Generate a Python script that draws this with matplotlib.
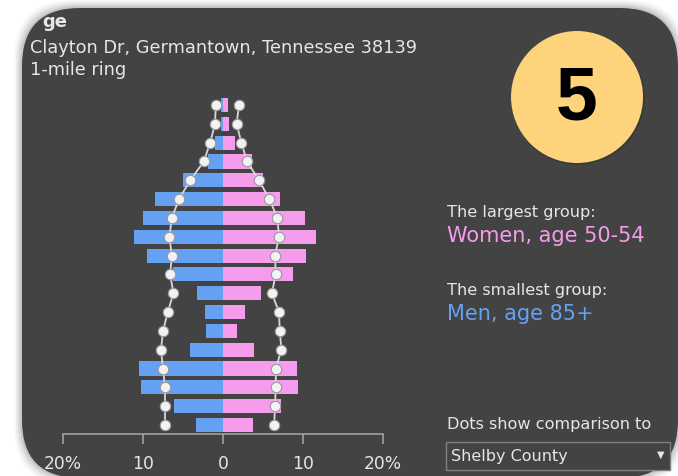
import matplotlib
matplotlib.use("Agg")
import matplotlib.pyplot as plt
from matplotlib.patches import FancyBboxPatch, Circle, Rectangle

# age groups from bottom (0-4) to top (85+)
age_groups = ["0-4", "5-9", "10-14", "15-19", "20-24", "25-29", "30-34", "35-39", "40-44",
              "45-49", "50-54", "55-59", "60-64", "65-69", "70-74", "75-79", "80-84", "85+"]
men = [3.4, 6.1, 10.3, 10.5, 4.1, 2.1, 2.25, 3.3, 6.2, 9.5, 11.1, 10.0, 8.5, 5.0, 1.9, 1.0, 0.3, 0.2]
women = [3.75, 7.3, 9.4, 9.2, 3.9, 1.75, 2.75, 4.75, 8.75, 10.4, 11.6, 10.2, 7.1, 5.0, 3.6, 1.5, 0.7, 0.6]
county_men = [7.25, 7.25, 7.25, 7.5, 7.75, 7.5, 6.9, 6.2, 6.6, 6.4, 6.7, 6.4, 5.5, 4.1, 2.4, 1.6, 1.0, 0.9]
county_women = [6.4, 6.5, 6.6, 6.6, 7.3, 7.1, 7.0, 6.1, 6.6, 6.5, 7.0, 6.8, 5.8, 4.5, 3.0, 2.3, 1.7, 2.0]

tick_values = [-20, -10, 0, 10, 20]
tick_labels = ["20%", "10", "0", "10", "20%"]

W, H = 678, 476
PANEL = "#434343"
BLUE = "#65a1f2"
PINK = "#f59ced"
TEXT = "#e6e6e6"

fig = plt.figure(figsize=(W / 100, H / 100), dpi=100)
fig.patch.set_facecolor("white")

# overlay axes in pixel coordinates
bg = fig.add_axes([0, 0, 1, 1])
bg.set_xlim(0, W)
bg.set_ylim(H, 0)
bg.axis("off")

# soft shadow then the rounded dark panel
for i, a in enumerate([0.03, 0.05, 0.07, 0.09]):
    grow = 8 - 2 * i
    bg.add_patch(FancyBboxPatch((22 - grow, 8 - grow), 656 + 2 * grow, 470 + 2 * grow,
                                boxstyle="round,pad=0,rounding_size=60",
                                fc="black", ec="none", alpha=a))
bg.add_patch(FancyBboxPatch((22, 8), 656, 470, boxstyle="round,pad=0,rounding_size=58",
                            fc=PANEL, ec="none"))

# titles
bg.text(42, 22, "ge", color=TEXT, fontsize=13, fontweight="bold", va="center", ha="left")
bg.text(30, 48, "Clayton Dr, Germantown, Tennessee 38139", color=TEXT, fontsize=12.8,
        va="center", ha="left")
bg.text(30, 70, "1-mile ring", color=TEXT, fontsize=12.8, va="center", ha="left")

# number badge
bg.add_patch(Circle((578, 98), 67, fc="black", ec="none", alpha=0.12))
bg.add_patch(Circle((577, 97), 66, fc="#fdd37b", ec="none"))
bg.text(577, 100, "5", color="black", fontsize=54, fontweight="bold",
        family="Liberation Sans", ha="center", va="center")

# right side notes
bg.text(447, 212, "The largest group:", color=TEXT, fontsize=11.6, va="center")
bg.text(447, 236, "Women, age 50-54", color=PINK, fontsize=15, va="center")
bg.text(447, 290, "The smallest group:", color=TEXT, fontsize=11.6, va="center")
bg.text(447, 314, "Men, age 85+", color=BLUE, fontsize=15, va="center")
bg.text(447, 425, "Dots show comparison to", color=TEXT, fontsize=11.6, va="center")
bg.add_patch(Rectangle((446, 442), 224, 28, fc=PANEL, ec="#808080", lw=1))
bg.text(451, 457, "Shelby County", color=TEXT, fontsize=11.5, va="center")
bg.text(661, 455, "\u25bc", color=TEXT, fontsize=7, va="center", ha="center")

# pyramid axes: x from -20 to 20 over px 63..383, rows centred from y 425 to 105
row_px = (425 - 105) / 17
top = 105 - row_px / 2
bottom = 425 + row_px / 2
ax = fig.add_axes([63 / W, 1 - bottom / H, 320 / W, (bottom - top) / H])
ax.set_facecolor("none")
ax.set_xlim(-20, 20)
ax.set_ylim(-0.5, len(age_groups) - 0.5)

y = list(range(len(age_groups)))
ax.barh(y, [-m for m in men], height=0.75, color=BLUE, zorder=2)
ax.barh(y, women, height=0.75, color=PINK, zorder=2)

ax.plot([-c for c in county_men], y, color="#d8d8d8", lw=1.3, zorder=3)
ax.plot(county_women, y, color="#d8d8d8", lw=1.3, zorder=3)
ax.plot([-c for c in county_men], y, "o", ms=7.5, mfc="#f2f2f2", mec="#9a9a9a", mew=0.8, zorder=4)
ax.plot(county_women, y, "o", ms=7.5, mfc="#f2f2f2", mec="#9a9a9a", mew=0.8, zorder=4)

for s in ["top", "left", "right"]:
    ax.spines[s].set_visible(False)
ax.spines["bottom"].set_color("#a0a0a0")
ax.spines["bottom"].set_linewidth(1.2)
ax.set_yticks([])
ax.set_xticks(tick_values)
ax.set_xticklabels(tick_labels)
ax.tick_params(axis="x", colors="#a0a0a0", labelcolor=TEXT, length=7, width=1.2,
               direction="out", pad=8, labelsize=12.3)

fig.savefig("out.png", dpi=100, facecolor="white")
